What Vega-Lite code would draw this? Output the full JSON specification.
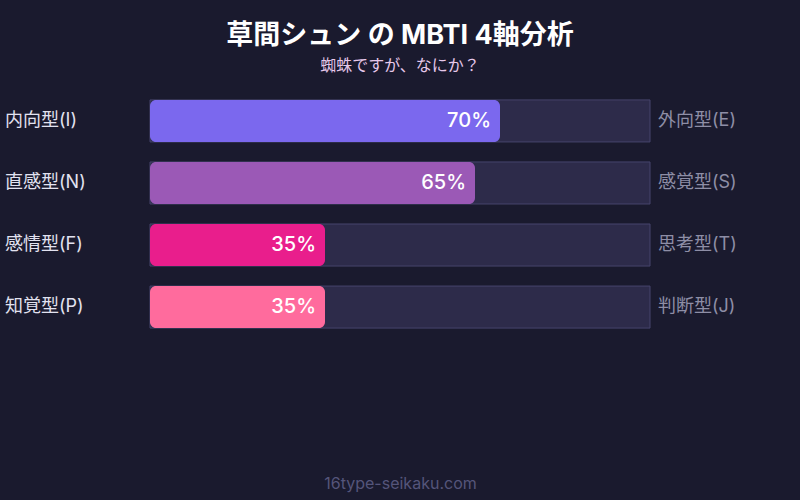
{
  "$schema": "https://vega.github.io/schema/vega-lite/v6.json",
  "autosize": "none",
  "width": 500,
  "height": 248,
  "padding": {"left": 150, "top": 90, "right": 150, "bottom": 162},
  "background": "#1a1a2e",
  "config": {
    "view": {"stroke": null},
    "font": "Inter, 'Noto Sans CJK JP', sans-serif"
  },
  "title": {
    "text": "草間シュン の MBTI 4軸分析",
    "subtitle": "蜘蛛ですが、なにか？",
    "anchor": "middle",
    "fontSize": 27,
    "fontWeight": "bold",
    "color": "#ffffff",
    "subtitleFontSize": 16,
    "subtitleColor": "#e6c8ea",
    "subtitlePadding": 8,
    "offset": 15
  },
  "data": {
    "values": [
      {"left": "内向型(I)", "right": "外向型(E)", "value": 0.70},
      {"left": "直感型(N)", "right": "感覚型(S)", "value": 0.65},
      {"left": "感情型(F)", "right": "思考型(T)", "value": 0.35},
      {"left": "知覚型(P)", "right": "判断型(J)", "value": 0.35}
    ]
  },
  "encoding": {
    "y": {
      "field": "left",
      "type": "nominal",
      "sort": null,
      "axis": null,
      "scale": {"paddingInner": 0.3226, "paddingOuter": 0.16}
    }
  },
  "layer": [
    {
      "mark": {"type": "bar", "fill": "#2d2b4a", "stroke": "#46446c", "strokeWidth": 1},
      "encoding": {
        "x": {
          "datum": 1,
          "type": "quantitative",
          "scale": {"domain": [0, 1], "nice": false},
          "axis": {
            "labels": false,
            "ticks": false,
            "domain": false,
            "grid": false,
            "title": "16type-seikaku.com",
            "titleColor": "#55557a",
            "titleFontSize": 16,
            "titleFontWeight": "normal",
            "titlePadding": 137
          }
        }
      }
    },
    {
      "mark": {"type": "bar", "cornerRadius": 6},
      "encoding": {
        "x": {"field": "value", "type": "quantitative", "stack": null},
        "color": {
          "field": "left",
          "type": "nominal",
          "scale": {
            "domain": ["内向型(I)", "直感型(N)", "感情型(F)", "知覚型(P)"],
            "range": ["#7b68ee", "#9b59b6", "#e91e8c", "#ff6b9d"]
          },
          "legend": null
        }
      }
    },
    {
      "mark": {"type": "text", "align": "right", "dx": -9, "fontSize": 20, "fontWeight": 500, "color": "#ffffff"},
      "encoding": {
        "x": {"field": "value", "type": "quantitative"},
        "text": {"field": "value", "type": "quantitative", "format": ".0%"}
      }
    },
    {
      "mark": {"type": "text", "align": "left", "dx": -145, "fontSize": 18, "color": "#e2e2f0"},
      "encoding": {
        "x": {"datum": 0, "type": "quantitative"},
        "text": {"field": "left"}
      }
    },
    {
      "mark": {"type": "text", "align": "left", "dx": 8, "fontSize": 18, "color": "#8e8ea6"},
      "encoding": {
        "x": {"datum": 1, "type": "quantitative"},
        "text": {"field": "right"}
      }
    }
  ]
}
